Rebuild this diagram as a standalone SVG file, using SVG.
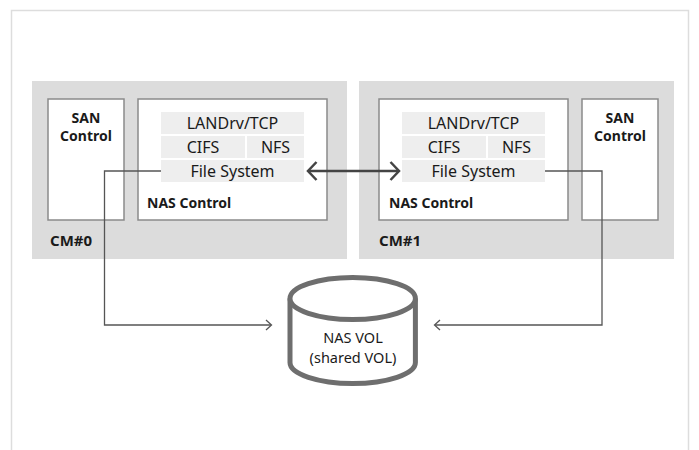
<svg xmlns="http://www.w3.org/2000/svg" width="699" height="450" viewBox="0 0 699 450">
<style>
.frame{fill:#ffffff;stroke:#dddddd;stroke-width:1.5}
.cm{fill:#dcdcdc}
.box{fill:#ffffff;stroke:#8a8a8a;stroke-width:1.5}
.cell{fill:#eeeeee}
.t{font-family:"Noto Sans","Open Sans",sans-serif;fill:#1a1a1a}
.reg{font-size:16px;text-anchor:middle}
.b14{font-size:14px;font-weight:bold}
.b15{font-size:15px;font-weight:bold}
.conn{fill:none;stroke:#555555;stroke-width:1.3}
.thick{fill:none;stroke:#444444;stroke-width:2.5}
.cyl{fill:#ffffff;stroke:#6e6e6e;stroke-width:5}
</style>
<rect x="0" y="0" width="699" height="450" fill="#ffffff"/>
<rect class="frame" x="11.5" y="10.5" width="677" height="460"/>

<g id="cm0">
  <rect class="cm" x="32" y="81" width="315" height="178"/>
  <text class="t b15" x="50" y="246">CM#0</text>
</g>
<g id="cm1">
  <rect class="cm" x="359" y="81" width="315" height="178"/>
  <text class="t b15" x="379" y="246">CM#1</text>
</g>

<g id="san0">
  <rect class="box" x="48" y="99" width="76" height="121"/>
  <text class="t b14" x="86" y="123" text-anchor="middle">SAN</text>
  <text class="t b14" x="86" y="140.5" text-anchor="middle">Control</text>
</g>
<g id="nas0">
  <rect class="box" x="138" y="99" width="189" height="121"/>
  <text class="t b14" x="147" y="208">NAS Control</text>
</g>
<g id="lan0">
  <rect class="cell" x="161" y="112" width="143" height="22"/>
  <text class="t reg" x="232.5" y="129">LANDrv/TCP</text>
</g>
<g id="cifs0">
  <rect class="cell" x="161" y="136" width="84" height="22"/>
  <text class="t reg" x="203" y="153">CIFS</text>
</g>
<g id="nfs0">
  <rect class="cell" x="247" y="136" width="57" height="22"/>
  <text class="t reg" x="275.5" y="153">NFS</text>
</g>
<g id="fs0">
  <rect class="cell" x="161" y="160" width="143" height="22"/>
  <text class="t reg" x="232.5" y="177">File System</text>
</g>

<g id="san1">
  <rect class="box" x="582" y="99" width="76" height="121"/>
  <text class="t b14" x="620" y="123" text-anchor="middle">SAN</text>
  <text class="t b14" x="620" y="140.5" text-anchor="middle">Control</text>
</g>
<g id="nas1">
  <rect class="box" x="379" y="99" width="189" height="121"/>
  <text class="t b14" x="389" y="208">NAS Control</text>
</g>
<g id="lan1">
  <rect class="cell" x="402" y="112" width="143" height="22"/>
  <text class="t reg" x="473.5" y="129">LANDrv/TCP</text>
</g>
<g id="cifs1">
  <rect class="cell" x="402" y="136" width="84" height="22"/>
  <text class="t reg" x="444" y="153">CIFS</text>
</g>
<g id="nfs1">
  <rect class="cell" x="488" y="136" width="57" height="22"/>
  <text class="t reg" x="516.5" y="153">NFS</text>
</g>
<g id="fs1">
  <rect class="cell" x="402" y="160" width="143" height="22"/>
  <text class="t reg" x="473.5" y="177">File System</text>
</g>

<g id="nasvol">
  <path class="cyl" d="M290,298.5 L290,362.5 A62.7,21 0 0 0 415.4,362.5 L415.4,298.5"/>
  <ellipse class="cyl" cx="352.7" cy="298.5" rx="62.7" ry="21"/>
  <text class="t" x="353" y="343" font-size="14.5" text-anchor="middle">NAS VOL</text>
  <text class="t" x="353" y="363" font-size="14.5" text-anchor="middle">(shared VOL)</text>
</g>

<g id="connectors">
  <path class="conn" d="M161,171 H104.5 V325 H271"/>
  <path class="conn" d="M266,320 L271.5,325 L266,330"/>
  <path class="conn" d="M545,171 H602 V325 H435"/>
  <path class="conn" d="M440,320 L434.5,325 L440,330"/>
  <path class="thick" d="M308.5,171 H398"/>
  <path class="thick" d="M316.5,162 L308,171 L316.5,180"/>
  <path class="thick" d="M390.5,162 L399,171 L390.5,180"/>
</g>
</svg>
